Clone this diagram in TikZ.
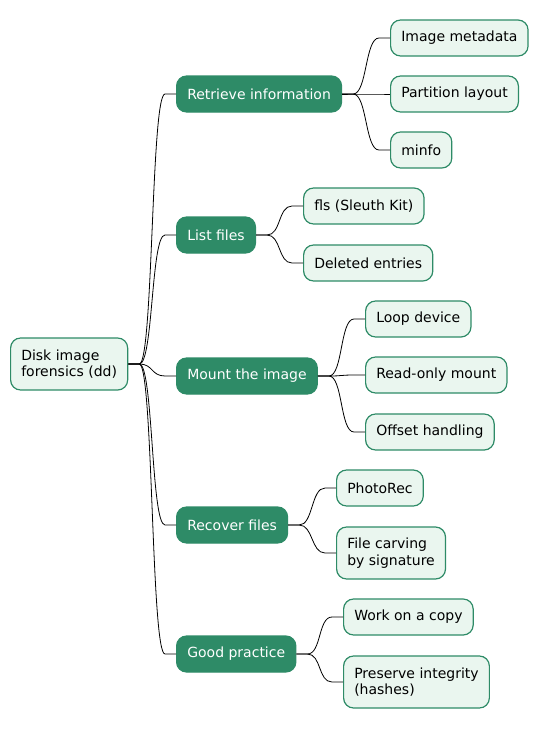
\documentclass[tikz,border=0pt]{standalone}
\usepackage{fontspec}
\setmainfont{DejaVu Sans}
\usetikzlibrary{calc}
\definecolor{deepgreen}{HTML}{2E8B67}
\definecolor{palegreen}{HTML}{EAF6EF}

\begin{document}
\begin{tikzpicture}[x=0.75pt,y=-0.75pt,
  font=\fontsize{10.5pt}{12.5pt}\selectfont,
  leaf/.style={rectangle, rounded corners=7.5pt, draw=deepgreen, fill=palegreen, line width=0.9pt,
    anchor=west, align=left, inner xsep=8pt, inner ysep=6.5pt, minimum height=27pt},
  twoline/.style={leaf, minimum height=39pt},
  topic/.style={leaf, fill=deepgreen, text=white},
  link/.style={black, line width=0.6pt}]
\useasboundingbox (0,0) rectangle (537,729);

\node[twoline](root) at (10,364) {Disk image\\forensics (dd)};

\node[topic](info) at (176,94) {Retrieve information};
\node[topic](list) at (176,235) {List files};
\node[topic](mount) at (176,376) {Mount the image};
\node[topic](recover) at (176,525) {Recover files};
\node[topic](good) at (176,654) {Good practice};

\node[leaf](meta) at (390,38) {Image metadata};
\node[leaf](part) at (390,94) {Partition layout};
\node[leaf](minfo) at (390,150) {minfo};
\node[leaf](fls) at (303,206) {fls (Sleuth Kit)};
\node[leaf](deleted) at (303,263) {Deleted entries};
\node[leaf](loop) at (365,319) {Loop device};
\node[leaf](ro) at (365,375) {Read-only mount};
\node[leaf](offset) at (365,432) {Offset handling};
\node[leaf](photorec) at (336,488) {PhotoRec};
\node[twoline](carving) at (336,553) {File carving\\by signature};
\node[leaf](copy) at (343,617) {Work on a copy};
\node[twoline](integrity) at (343,682) {Preserve integrity\\(hashes)};

\foreach \a/\b in {root/info, root/list, root/mount, root/recover, root/good,
  info/meta, info/part, info/minfo, list/fls, list/deleted,
  mount/loop, mount/ro, mount/offset, recover/photorec, recover/carving,
  good/copy, good/integrity}
  \draw[link] (\a.east) -- ++(11,0) .. controls +(14,0) and +(-14,0) .. ($(\b.west)+(-11,0)$) -- (\b.west);
\end{tikzpicture}
\end{document}
